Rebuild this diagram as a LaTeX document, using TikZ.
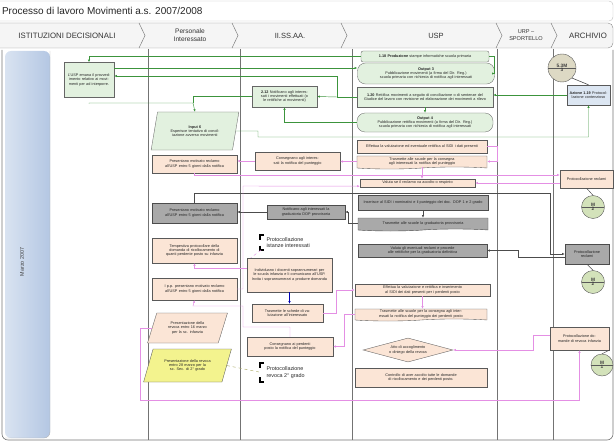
\documentclass[tikz,border=0pt]{standalone}
\usepackage{fontspec}
\setmainfont{Liberation Sans}
\usetikzlibrary{shapes.geometric,shapes.symbols,shapes.multipart,arrows.meta}
\definecolor{grn}{HTML}{E2F1DF}
\definecolor{peach}{HTML}{FBE5D6}
\definecolor{gry}{HTML}{A9A9A9}
\definecolor{lblue}{HTML}{DCE6F2}
\definecolor{yel}{HTML}{F3F38E}
\definecolor{cgrn}{HTML}{D3E2BA}
\definecolor{khaki}{HTML}{DDD9C4}
\definecolor{lgreen}{HTML}{3C943C}
\definecolor{lpink}{HTML}{E48FE4}
\definecolor{barL}{HTML}{D9E3F1}
\definecolor{barR}{HTML}{B4C7E3}
\begin{document}
\begin{tikzpicture}[x=1pt,y=-1pt,
  nt/.style={font=\fontsize{3.8}{4.3}\selectfont, text=black!85, align=center, inner sep=0.6pt},
  sz/.style 2 args={minimum width=#1pt, minimum height=#2pt, text width=#1pt-5pt},
  gbox/.style={nt, draw=black!60, fill=grn, line width=0.35pt},
  pbox/.style={nt, draw=black!65, fill=peach, line width=0.35pt},
  dbox/.style={nt, draw=black!70, fill=gry, line width=0.4pt},
  bbox/.style={nt, draw=black!65, fill=lblue, line width=0.4pt},
  doc/.style={tape, tape bend top=none, tape bend height=2pt},
  para/.style={trapezium, trapezium left angle=#1, trapezium right angle=180-#1, trapezium stretches=true},
  cnode/.style={circle split, draw=black!65, fill=cgrn, line width=0.4pt, minimum size=#1pt, inner sep=0.2pt,
     font=\fontsize{4.8}{5.2}\selectfont\bfseries, text=black!75},
  tip/.style={-{Latex[length=2.6pt,width=2.2pt]}},
  gl/.style={draw=lgreen, line width=0.45pt},
  pl/.style={draw=lpink, line width=0.45pt},
  dl/.style={draw=black!70, line width=0.45pt},
  lane/.style={draw=black!55, line width=0.5pt},
  hdr/.style={font=\fontsize{7.5}{8}\selectfont, text=black!80, align=center},
  brk/.style={draw=black, line width=1.3pt},
  anno/.style={font=\fontsize{5.4}{6.2}\selectfont, text=black!85, align=left, anchor=west}
]
\useasboundingbox (0,0) rectangle (615,441);

% title and header band
\draw[black!25, fill=white, rounded corners=4] (-6,1) rectangle (613,21);
\node[anchor=west, font=\fontsize{10}{12}\selectfont, text=black!85] (title) at (-1.5,11) {Processo di lavoro Movimenti a.s. 2007/2008};
\draw[black!45, fill=black!4, rounded corners=5] (-6,23) rectangle (613,48);
\foreach \cx in {139,232,341,496,551}
  \draw[black!50, line width=0.5pt] (\cx,23) -- (\cx+6,35.5) -- (\cx,48);
\node[hdr, font=\fontsize{7.8}{8}\selectfont] (h1) at (67,36) {ISTITUZIONI DECISIONALI};
\node[hdr, font=\fontsize{6.6}{8}\selectfont] (h2) at (190,35.5) {Personale\\Interessato};
\node[hdr] (h3) at (290,36) {II.SS.AA.};
\node[hdr] (h4) at (436,36) {USP};
\node[hdr, font=\fontsize{5.6}{7}\selectfont] (h5) at (526,35.5) {URP --\\SPORTELLO};
\node[hdr, font=\fontsize{7.8}{8}\selectfont] (h6) at (588,36) {ARCHIVIO};

% body frame, period bar and swimlanes
\draw[black!55, line width=0.6pt, rounded corners=6] (2,50) -- (2,440) -- (613,440) -- (613,50);
\shade[left color=barL, right color=barR, rounded corners=6] (5,51) rectangle (50,438);
\draw[black!30, line width=0.4pt, rounded corners=6] (50,51) -- (50,438) -- (5,438);
\node[rotate=90, font=\fontsize{5.4}{6}\selectfont, text=black!75] (period) at (22,262) {Marzo 2007};
\foreach \lx in {148,240,352,497,553}
  \draw[lane] (\lx,49) -- (\lx,440);

% ISTITUZIONI DECISIONALI
\node[gbox, sz={50}{35}] (A1) at (89,80) {L'USP emana il provvedimento relativo ai movimenti per ad interporre.};

% Personale Interessato
\node[gbox, para=68, sz={88}{38}, text width=58pt] (P1) at (195,131) {\textbf{Input 6}\\Esperisce tentativo di conciliazione avverso movimenti};
\node[pbox, sz={85}{18}] (P2) at (194.5,164) {Presentano motivato reclamo all'USP entro 5 giorni dalla notifica};
\node[dbox, sz={85}{20}] (P3) at (194.5,213) {Presentano motivato reclamo all'USP entro 5 giorni dalla notifica};
\node[pbox, sz={85}{25}] (P4) at (194.5,250.5) {Tempestiva protocollare della domanda di ricollocamento di quanti perdente posto su infanzia};
\node[pbox, sz={85}{22}] (P5) at (194.5,289) {I p.p. presentano motivato reclamo all'USP entro 5 giorni dalla notifica};
\node[pbox, para=63, sz={80}{30}, text width=44pt] (P6) at (187.5,328) {Presentazione della revoca entro 16 marzo per la sc. infanzia};
\node[nt, draw=black!65, fill=yel, line width=0.35pt, para=63, sz={88}{33}, text width=48pt] (P7) at (187.5,365.5) {Presentazione della revoca entro 28 marzo per la sc. Sec. di 2° grado};

% II.SS.AA.
\node[gbox, sz={65}{21}] (S1) at (284.5,96.5) {\textbf{2.12} Notificano agli interessati i movimenti effettuati (o le rettifiche ai movimenti)};
\node[pbox, sz={85}{18}] (S2) at (297.5,161) {Consegnano agli interessati la notifica del punteggio};
\node[dbox, sz={78}{14}] (S3) at (306,212) {Notificano agli interessati la graduatoria DOP provvisoria};
\draw[brk] (264,235) -- (260,235) -- (260,239.5);
\draw[brk] (260,245.5) -- (260,250) -- (264,250);
\coordinate (S4b) at (261,250);
\node[anno] (S4) at (263,242.5) {Protocollazione\\istanze interessati};
\node[pbox, sz={85}{34}] (S5) at (289.5,275) {Individuano i docenti soprannumerari per le scuola infanzia e li comunicano all'USP. Invita i soprannumerari a produrre domanda};
\node[pbox, sz={71}{18}] (S6) at (287.5,313) {Trasmette le schede di valutazione all'interessato};
\node[pbox, sz={86}{19}] (S7) at (290,346.5) {Consegnano ai perdenti posto la notifica del punteggio};
\draw[brk] (264,363) -- (260,363) -- (260,368);
\draw[brk] (260,377) -- (260,382) -- (264,382);
\coordinate (S8b) at (259,372);
\node[anno] (S8) at (263,372.5) {Protocollazione\\revoca 2° grado};

% USP
\node[gbox, rounded corners=2, sz={128}{11}] (U1) at (425,56.5) {\textbf{1.18 Produzione} stampe informatiche scuola primaria};
\node[gbox, rounded corners=8, sz={137}{21}] (U2) at (426,73.5) {\textbf{Output 3}\\Pubblicazione movimenti (a firma del Dir. Reg.) scuola primaria con richiesta di notifica agli interessati};
\node[gbox, sz={136}{20}] (U3) at (425,97) {\textbf{1.20} Rettifica movimenti a seguito di conciliazione o di sentenze del Giudice del lavoro con revisione ed elaborazione dei movimenti a rilevo};
\node[gbox, rounded corners=8, sz={136}{19}] (U4) at (425,122.5) {\textbf{Output 4}\\Pubblicazione rettifica movimenti (a firma del Dir. Reg.) scuola primaria con richiesta di notifica agli interessati};
\node[pbox, sz={130}{13}] (U5) at (422,146.5) {Effettua la valutazione ed eventuale rettifica al SIDI i dati presenti};
\node[pbox, doc, sz={130}{13}] (U6) at (422,161.5) {Trasmette alle scuole per la consegna agli interessati la notifica del punteggio};
\node[pbox, sz={115}{8}] (U7) at (417.5,183) {Valuta se il reclamo va accolto o respinto};
\node[dbox, sz={130}{15}] (U8) at (423,203) {Inserisce al SIDI i nominativi e il punteggio dei doc. DOP 1 e 2 grado};
\node[dbox, doc, sz={130}{13}] (U9) at (423,223.5) {Trasmette alle scuole la graduatoria provvisoria};
\node[dbox, sz={129}{13}] (U10) at (422.5,250.5) {Valuta gli eventuali reclami e procede alle rettifiche per la graduatoria definitiva};
\node[pbox, sz={135}{12}] (U11) at (422.5,290) {Effettua la valutazione e rettifica e inserimento al SIDI dei dati presenti per i perdenti posto};
\node[pbox, doc, sz={132}{12}] (U12) at (421,314) {Trasmette alle scuole per la consegna agli interessati la notifica del punteggio dei perdenti posto};
\node[pbox, diamond, aspect=3.75, minimum width=90pt, minimum height=24pt, inner sep=0pt, text width=48pt] (U13) at (408,350) {Atto di accoglimento o diniego della revoca};
\node[pbox, sz={132}{19}] (U14) at (421,377.5) {Controllo di aver accolto tutte le domande di ricollocamento e dei perdenti posto.};

% ARCHIVIO
\node[cnode=28, fill=khaki] (R1) at (562,68) {5.3\\M \nodepart{lower} 3};
\node[bbox, sz={43}{20}] (R2) at (588.5,95) {\textbf{Azione 1.19} Protocollazione contenzioso};
\node[pbox, sz={53}{18}] (R3) at (586.5,179) {Protocollazione reclami};
\node[cnode=23] (R4) at (593,207) {M \nodepart{lower} 2};
\node[dbox, sz={44}{20}] (R5) at (587,254) {Protocollazione reclami};
\node[cnode=23] (R6) at (593,282) {M \nodepart{lower} 2};
\node[pbox, sz={59}{23}] (R7) at (579.5,338.5) {Protocollazione domande di revoca infanzia};
\node[cnode=22] (R8) at (602,365) {M \nodepart{lower} 1};

% green flow: movements and conciliation
\draw[gl, tip] (U1.west) -| (A1.north);
\draw[gl, tip] ([yshift=12]A1.east) -- ([yshift=5.5]U2.west);
\coordinate (j1) at (337,97);
\draw[gl, tip] (U3.west) -- (j1) |- ([yshift=4]A1.east);
\draw[gl, tip] (j1) -- (S1.east);
\draw[gl, tip] (U4.west) -| (S1.south);
\draw[gl, tip] ([yshift=-6]A1.south) |- (193,103) -- (P1.north);
\draw[gl] (S1.west) -| (193,103);
\draw[gl, tip] (P1.east) -- (258,131) |- (450,137) -| (R2.south);
\draw[gl, tip] (R2.west) -- (R2.west -| U3.east);
\draw[gl, tip] (U3.south) -- (U4.north);
\draw[gl, tip] (U1.east) -- ++(5,0) |- (U2.east);
\draw[dl, line width=0.6pt] (R1.south east) -- (R2.north);

% pink flow: scores and claims
\draw[pl, tip] (S2.west) -- (S2.west -| P2.east);
\draw[pl, tip] (U6.west) -- (U6.west -| S2.east);
\draw[pl, tip] (U5.east) -- ++(10,0) |- (U6.east);
\draw[pl, tip] (U6.south) -- (U6.south |- U7.north);
\draw[pl, tip] (P2.south) |- ([yshift=4]R3.west);
\draw[pl, tip] ([yshift=-4]R3.west) -- ([yshift=-4]R3.west -| U7.east);
\draw[dl] (R3.south) -- (R4.north);

% grey flow: DOP ranking
\draw[dl, tip] (P3.north) |- (550,193) |- (R5.west);
\draw[dl, tip] ([yshift=-3]R5.west) -- (518,257) |- (U10.east);
\draw[dl, tip] (U8.south) -- (U9.north);
\draw[dl, tip] (U9.west) -- (348,223.5) |- (S3.east);
\draw[dl, tip] (S3.west) -- (S3.west -| P3.east);
\draw[dl] (R5.south) -- (R6.north);

% pink flow: redundant staff and revocations
\draw[pl, dashed] (S4b) -- ([xshift=4]S5.north west);
\draw[pl, tip] ([yshift=7]S5.west) -| (P4.south);
\draw[draw=blue!70!black, line width=0.45pt, tip] (S5.south) -- (S5.south |- S6.north);
\draw[pl, tip] (S6.east) -- (336,313) |- (U11.west);
\draw[pl, tip] (U11.south) -- (U11.south |- U12.north);
\draw[pl, tip] (U12.west) -- (344,314) |- (S7.east);
\draw[pl, tip] (S7.north) |- (243,327) |- (193,306) -- (P5.south);
\draw[pl, tip] (P5.east) -| (243,186) -- ([yshift=1]U7.south west);
\draw[pl, tip] (P6.west) -| (140,400) -| (R7.south);
\draw[pl, tip] ([yshift=3]R7.west) -- (533,335.5) |- (U13.east);
\draw[dl] (R7.south east) -- (R8.north);
\draw[draw=yel!70!black, dashed, line width=0.45pt] (P7.east) -- (S8b);
\end{tikzpicture}
\end{document}
